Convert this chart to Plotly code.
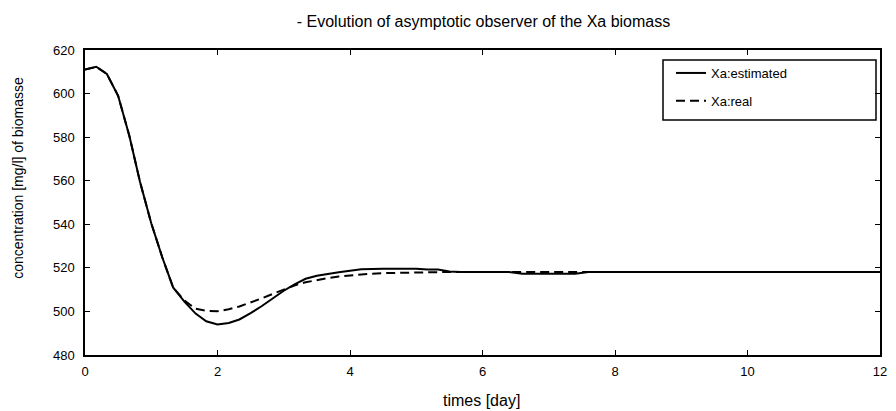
import plotly.graph_objects as go

times = [0, 0.17, 0.33, 0.5, 0.67, 0.83, 1.0, 1.17, 1.33, 1.5, 1.67, 1.83, 2.0,
         2.17, 2.33, 2.5, 2.67, 2.83, 3.0, 3.17, 3.33, 3.5, 3.67, 3.83, 4.0,
         4.17, 4.5, 5.0, 5.17, 5.33, 5.5, 5.67, 6.4, 6.6, 7.4, 7.6, 12]

xa_estimated = [611, 612.3, 609, 599, 580.5, 559.5, 540.5, 524.5, 511, 504.5, 499, 495.5, 494,
                494.7, 496.3, 499.2, 502.5, 506, 509.5, 512.5, 515, 516.4, 517.4, 518, 518.7,
                519.4, 519.6, 519.6, 519.2, 519.2, 518.3, 518.1, 518.1, 517.3, 517.3, 518.1, 518.1]

xa_real = [611, 612.3, 609, 599, 580.5, 559.5, 540.5, 524.5, 511, 505, 501.2, 500.3, 500.1,
           501, 502.3, 504, 506, 508, 510, 512, 513.4, 514.5, 515.3, 516, 516.6,
           517, 517.6, 518, 518.1, 518.1, 518.1, 518.1, 518.1, 518.1, 518.1, 518.1, 518.1]

x_ticks = [0, 2, 4, 6, 8, 10, 12]
y_ticks = [480, 500, 520, 540, 560, 580, 600, 620]

FONT = "Liberation Sans, Arial, sans-serif"

# page body has an 8px margin: figure spans 8..896 x 8..411
OFF = 8
W, H = 896 - OFF, 411 - OFF
L, R, T, B = 85 - OFF, 896 - 880, 50 - OFF, 411 - 355.5
PW, PH = W - L - R, H - T - B


def px(xpix):
    return (xpix - 85) / PW


def py(ypix):
    return (355.5 - ypix) / PH


fig = go.Figure()
fig.add_trace(go.Scatter(x=times, y=xa_estimated, mode="lines", name="Xa:estimated",
                         legendgroup="a",
                         line=dict(color="black", width=2)))
fig.add_trace(go.Scatter(x=times, y=xa_real, mode="lines", name="Xa:real",
                         legendgroup="b",
                         line=dict(color="black", width=2, dash="9px,5px")))

axis_common = dict(showgrid=False, zeroline=False, showline=True, linecolor="black",
                   linewidth=1.5, ticks="inside", ticklen=5, tickcolor="black",
                   mirror="ticks", automargin=False,
                   tickfont=dict(family=FONT, size=13, color="black"))

fig.update_layout(
    width=W, height=H,
    margin=dict(l=L, r=R, t=T, b=B),
    paper_bgcolor="white", plot_bgcolor="white",
    font=dict(family=FONT, size=13, color="black"),
    title=dict(text="- Evolution of asymptotic observer of the Xa biomass",
               x=(483.5 - OFF) / W, xanchor="center", y=1 - (21 - OFF) / H, yanchor="middle",
               font=dict(family=FONT, size=16, color="black")),
    xaxis=dict(range=[0, 12], tickvals=x_ticks, ticklabelstandoff=4, **axis_common),
    yaxis=dict(range=[480, 620], tickvals=y_ticks, ticklabelstandoff=6, **axis_common),
    annotations=[
        dict(text="times [day]", xref="paper", yref="paper", x=px(481.5), y=py(401.5),
             xanchor="center", yanchor="middle", showarrow=False,
             font=dict(family=FONT, size=16, color="black")),
        dict(text="concentration [mg/l] of biomasse", xref="paper", yref="paper",
             x=px(18), y=py(178), xanchor="center", yanchor="middle", textangle=-90,
             showarrow=False, font=dict(family=FONT, size=14, color="black")),
    ],
    showlegend=True,
    legend=dict(x=px(671), xanchor="left", y=py(58), yanchor="top",
                bgcolor="rgba(0,0,0,0)", borderwidth=0, tracegroupgap=8,
                itemwidth=30,
                font=dict(family=FONT, size=13, color="black")),
    shapes=[dict(type="rect", xref="paper", yref="paper",
                 x0=px(663), x1=px(876), y0=py(120), y1=py(60),
                 line=dict(color="black", width=1.5), fillcolor="white", layer="below")],
)

fig.write_html("out.html")
